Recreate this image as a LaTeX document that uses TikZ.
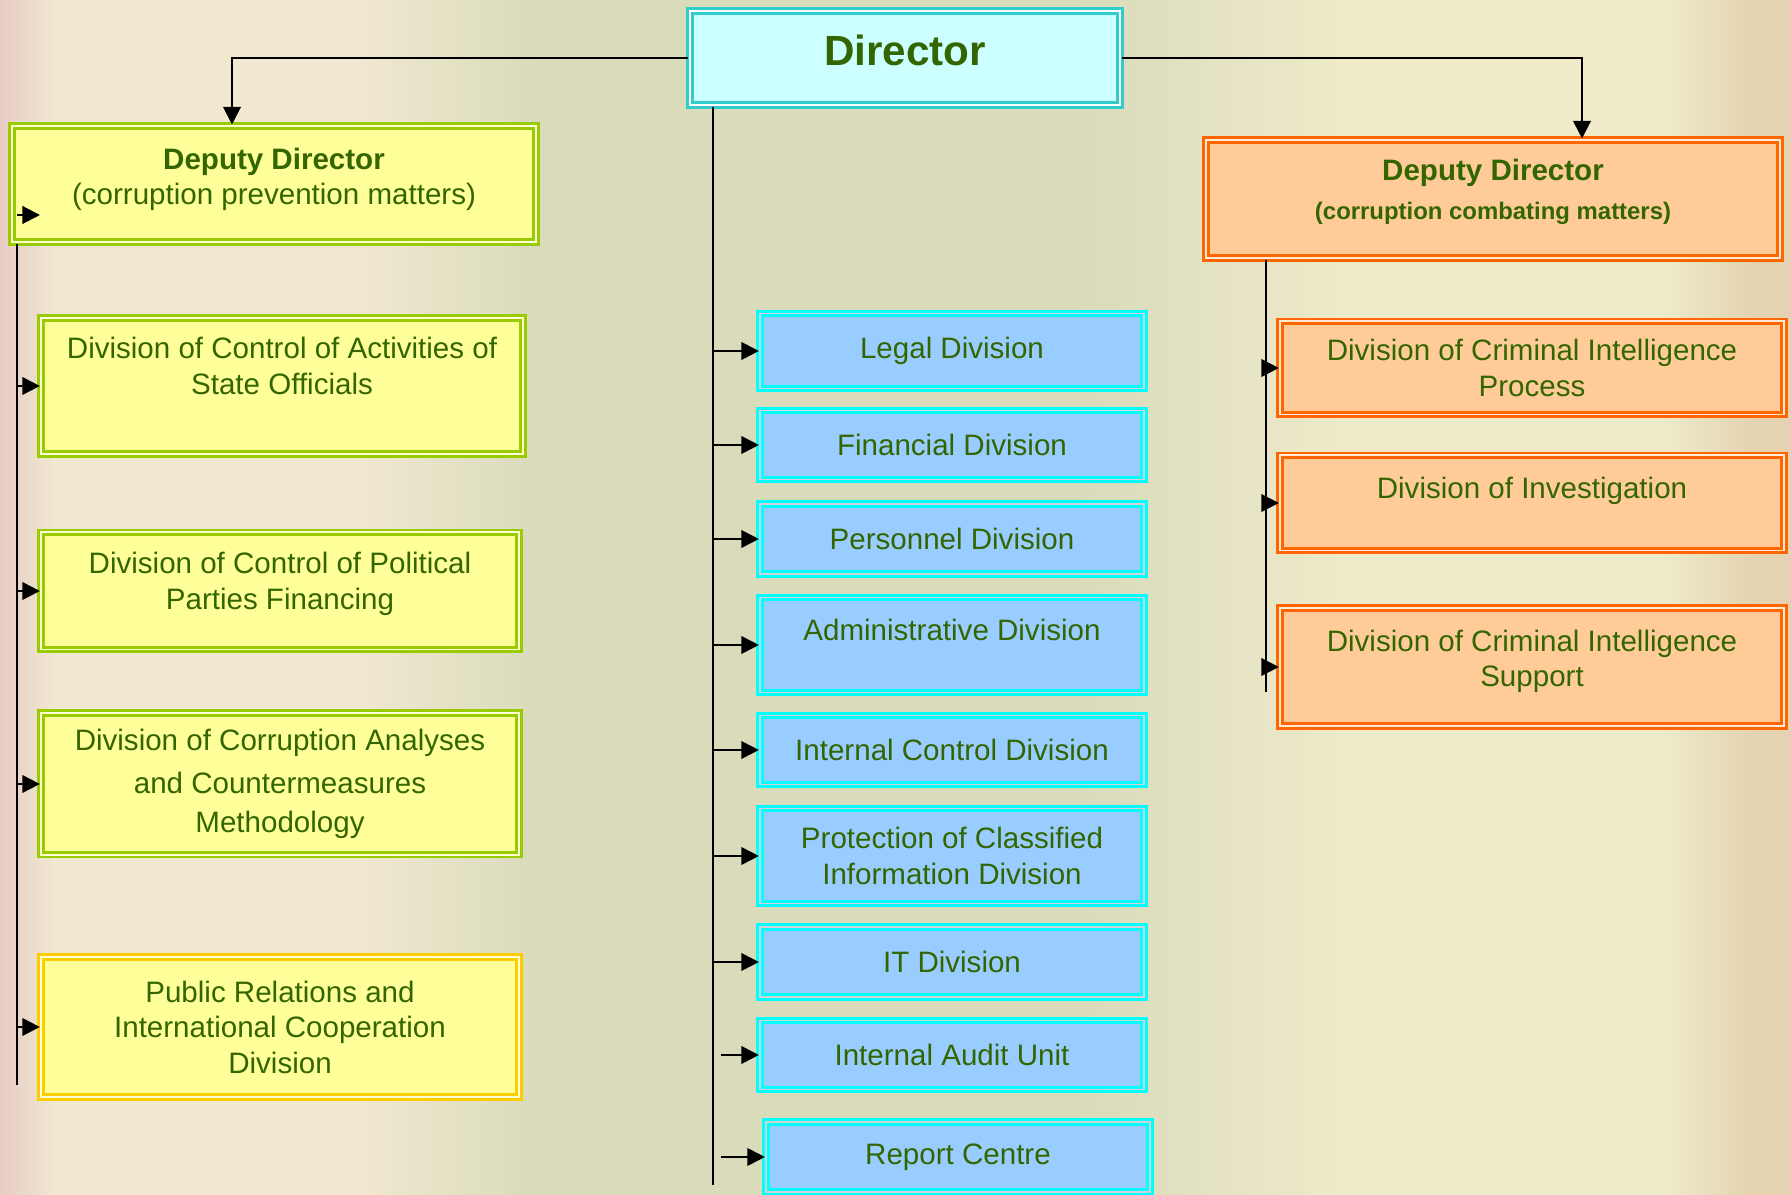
\documentclass[tikz,border=0pt]{standalone}
\usepackage{fontspec}
\setmainfont{Liberation Sans}
\usepackage{xcolor}
\usepackage{tikz}
\usetikzlibrary{
    arrows.meta
}
\definecolor{txtgreen}{HTML}{336600}
\definecolor{dirfill}{HTML}{CCFFFF}
\definecolor{dirline}{HTML}{33CCCC}
\definecolor{prevfill}{HTML}{FFFF99}
\definecolor{prevline}{HTML}{99CC00}
\definecolor{goldline}{HTML}{FFCC00}
\definecolor{divfill}{HTML}{99CCFF}
\definecolor{divline}{HTML}{00FFFF}
\definecolor{combfill}{HTML}{FFCC99}
\definecolor{combline}{HTML}{FF6600}
\definecolor{bgpink}{HTML}{E6CCC4}
\definecolor{bgcream}{HTML}{F0E8D0}
\definecolor{bgolive}{HTML}{D9DBBB}
\definecolor{bglight}{HTML}{EEEACA}
\definecolor{bgtan}{HTML}{E4D2B0}
\pgfdeclarehorizontalshading{bgshade}{100bp}{color(0bp)=(bgpink); color(25bp)=(bgpink);
    color(26.5bp)=(bgcream); color(35bp)=(bgcream); color(40bp)=(bgolive); color(55bp)=(bgolive);
    color(62.5bp)=(bglight); color(71.5bp)=(bglight); color(74bp)=(bgtan); color(100bp)=(bgtan)}
\newcommand{\boxlift}[1]{\rule[-#1]{0pt}{0pt}}
\tikzstyle{box} = [
    rectangle,
    line width=0.85pt,
    double distance=0.55pt,
    text=txtgreen,
    align=center,
    font=\fontsize{8.4}{10.1}\selectfont
]
\tikzstyle{boss} = [box, draw=dirline, double=white, fill=dirfill,
    font=\fontsize{12}{14}\selectfont\bfseries]
\tikzstyle{prevbox} = [box, draw=prevline, double=white!60!prevfill, fill=prevfill]
\tikzstyle{divbox} = [box, draw=divline, double=gray!35!white, fill=divfill,
    minimum width=3.83cm]
\tikzstyle{combbox} = [box, draw=combline, double=white!60!combfill, fill=combfill]
\tikzstyle{line} = [
    semithick
]
\tikzstyle{arrow} = [
    semithick,
    -{Triangle[length=5pt,width=5pt]}
]

\begin{document}
\begin{tikzpicture}[x=0.01cm, y=-0.01cm]
\useasboundingbox (0,0) rectangle (1791,1195);
\shade[shading=bgshade] (0,0) rectangle (1791,1195);

\node[boss, minimum width=4.30cm, minimum height=0.94cm] (dir) at (905,58) {Director\boxlift{4.5pt}};

\node[prevbox, minimum width=5.24cm, minimum height=1.16cm] (ddl) at (274,184)
    {\textbf{Deputy Director}\\(corruption prevention matters)\boxlift{4.5pt}};
\node[prevbox, minimum width=4.81cm, minimum height=1.36cm] (stateoff) at (282,386)
    {Division of Control of Activities of\\State Officials\boxlift{11.4pt}};
\node[prevbox, minimum width=4.77cm, minimum height=1.17cm] (parties) at (280,591)
    {Division of Control of Political\\Parties Financing\boxlift{5.7pt}};
\node[prevbox, minimum width=4.77cm, minimum height=1.41cm] (method) at (280,784)
    {Division of Corruption Analyses\\[2pt]and Countermeasures\\[1pt]Methodology};
\node[prevbox, draw=goldline, minimum width=4.77cm, minimum height=1.40cm] (pubrel) at (280,1027)
    {Public Relations and\\International Cooperation\\Division};

\node[divbox, minimum height=0.75cm] (legal)      at (952,351)  {Legal Division};
\node[divbox, minimum height=0.69cm] (finance)    at (952,445)  {Financial Division};
\node[divbox, minimum height=0.70cm] (personnel)  at (952,539)  {Personnel Division};
\node[divbox, minimum height=0.95cm] (admin)      at (952,645)  {Administrative Division\boxlift{8.5pt}};
\node[divbox, minimum height=0.69cm] (intcontrol) at (952,750)  {Internal Control Division};
\node[divbox, minimum height=0.95cm] (classified) at (952,856)  {Protection of Classified\\Information Division};
\node[divbox, minimum height=0.70cm] (itdiv)      at (952,962)  {IT Division};
\node[divbox, minimum height=0.69cm] (audit)      at (952,1055) {Internal Audit Unit};
\node[divbox, minimum height=0.70cm] (report)     at (958,1157) {Report Centre};

\node[combbox, minimum width=5.74cm, minimum height=1.18cm] (ddr) at (1493,199)
    {\textbf{Deputy Director}\\[1pt]{\fontsize{6.8}{8}\selectfont\bfseries (corruption combating matters)}\boxlift{5.7pt}};
\node[combbox, minimum width=5.03cm, minimum height=0.93cm] (process) at (1532,368)
    {Division of Criminal Intelligence\\Process};
\node[combbox, minimum width=5.03cm, minimum height=0.95cm] (investig) at (1532,503)
    {Division of Investigation\boxlift{8.5pt}};
\node[combbox, minimum width=5.03cm, minimum height=1.18cm] (support) at (1532,667)
    {Division of Criminal Intelligence\\Support\boxlift{5pt}};

% director to deputies
\coordinate (ljoin) at (232,56);
\coordinate (rjoin) at (1582,56);
\draw[arrow] (dir.west) -| (ljoin |- ddl.north);
\draw[arrow] (dir.east) -| (rjoin |- ddr.north);

% prevention branch
\coordinate (ltrunk) at (17,1085);
\coordinate (ddtip) at (40,215);
\draw[line] (ddl.south -| ltrunk) -- (ltrunk);
\draw[arrow] (ltrunk |- ddtip) -- (ddtip);
\draw[arrow] (ltrunk |- stateoff.west) -- (stateoff.west);
\draw[arrow] (ltrunk |- parties.west) -- (parties.west);
\draw[arrow] (ltrunk |- method.west) -- (method.west);
\draw[arrow] (ltrunk |- pubrel.west) -- (pubrel.west);

% divisions under the director
\coordinate (ctrunk) at (713,1185);
\coordinate (cshort) at (721,1185);
\draw[line] (dir.south -| ctrunk) -- (ctrunk);
\draw[arrow] (ctrunk |- legal.west) -- (legal.west);
\draw[arrow] (ctrunk |- finance.west) -- (finance.west);
\draw[arrow] (ctrunk |- personnel.west) -- (personnel.west);
\draw[arrow] (ctrunk |- admin.west) -- (admin.west);
\draw[arrow] (ctrunk |- intcontrol.west) -- (intcontrol.west);
\draw[arrow] (ctrunk |- classified.west) -- (classified.west);
\draw[arrow] (ctrunk |- itdiv.west) -- (itdiv.west);
\draw[arrow] (cshort |- audit.west) -- (audit.west);
\draw[arrow] (cshort |- report.west) -- (report.west);

% combating branch
\coordinate (rtrunk) at (1266,692);
\draw[line] (ddr.south -| rtrunk) -- (rtrunk);
\draw[arrow] (rtrunk |- process.west) -- (process.west);
\draw[arrow] (rtrunk |- investig.west) -- (investig.west);
\draw[arrow] (rtrunk |- support.west) -- (support.west);
\end{tikzpicture}
\end{document}
